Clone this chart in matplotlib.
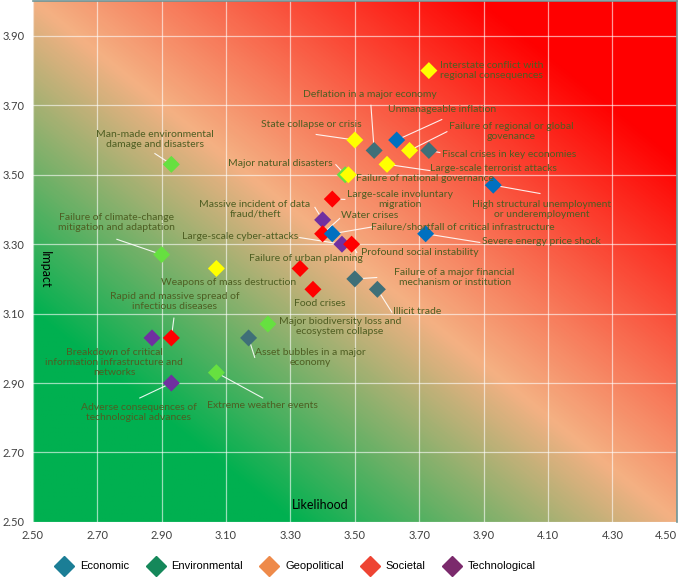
import numpy as np
import matplotlib
matplotlib.use("Agg")
import matplotlib.pyplot as plt
from matplotlib.colors import LinearSegmentedColormap
from matplotlib.lines import Line2D

# rischi globali: nome, probabilita' (x), impatto (y), gruppo colore
risks = [
    "Interstate conflict with\nregional consequences",
    "Deflation in a major economy",
    "Unmanageable inflation",
    "State collapse or crisis",
    "Failure of regional or global\ngovenance",
    "Fiscal crises in key economies",
    "Large-scale terrorist attacks",
    "Major natural disasters",
    "Failure of national governance",
    "Large-scale involuntary\nmigration",
    "High structural unemployment\nor underemployment",
    "Massive incident of data\nfraud/theft",
    "Water crises",
    "Failure/shortfall of critical infrastructure",
    "Large-scale cyber-attacks",
    "Severe energy price shock",
    "Profound social instability",
    "Failure of urban planning",
    "Weapons of mass destruction",
    "Food crises",
    "Failure of a major financial\nmechanism or institution",
    "Illicit trade",
    "Man-made environmental\ndamage and disasters",
    "Failure of climate-change\nmitigation and adaptation",
    "Rapid and massive spread of\ninfectious diseases",
    "Breakdown of critical\ninformation infrastructure and\nnetworks",
    "Adverse consequences of\ntechnological advances",
    "Extreme weather events",
    "Asset bubbles in a major\neconomy",
    "Major biodiversity loss and\necosystem collapse",
]
likelihood = [3.73, 3.56, 3.63, 3.50, 3.67, 3.73, 3.60, 3.47, 3.48, 3.43,
              3.93, 3.40, 3.40, 3.43, 3.46, 3.72, 3.49, 3.33, 3.07, 3.37,
              3.50, 3.57, 2.93, 2.90, 2.93, 2.87, 2.93, 3.07, 3.17, 3.23]
impact = [3.80, 3.57, 3.60, 3.60, 3.57, 3.57, 3.53, 3.50, 3.50, 3.43,
          3.47, 3.37, 3.33, 3.33, 3.30, 3.33, 3.30, 3.23, 3.23, 3.17,
          3.20, 3.17, 3.53, 3.27, 3.03, 3.03, 2.90, 2.93, 3.03, 3.07]
group = ["geo", "eco2", "eco", "geo", "geo", "eco2", "geo", "env", "geo", "soc",
         "eco", "tec", "soc", "eco", "tec", "eco", "soc", "soc", "geo", "soc",
         "eco2", "eco2", "env", "env", "soc", "tec", "tec", "env", "eco2", "env"]

legend_labels = ["Economic", "Environmental", "Geopolitical", "Societal", "Technological"]
legend_colors = ["#1B7E96", "#15885A", "#EE8A4A", "#EE4433", "#7B2A6C"]

marker_colors = {"geo": "#FFFF00", "eco": "#0070C0", "eco2": "#3F6F78",
                 "env": "#66E040", "soc": "#FF0000", "tec": "#7030A0"}

# posizione etichette (centro) e inizio della linea guida
label_pos = [(3.764, 3.80, "left"), (3.547, 3.73, "center"), (3.77, 3.687, "center"),
             (3.366, 3.645, "center"), (3.985, 3.624, "center"), (3.978, 3.558, "center"),
             (3.93, 3.517, "center"), (3.267, 3.532, "center"), (3.717, 3.488, "center"),
             (3.64, 3.43, "center"), (4.08, 3.40, "center"), (3.19, 3.40, "center"),
             (3.547, 3.382, "center"), (3.835, 3.35, "center"), (3.143, 3.321, "center"),
             (4.078, 3.307, "center"), (3.702, 3.275, "center"), (3.348, 3.258, "center"),
             (3.109, 3.189, "center"), (3.391, 3.128, "center"), (3.81, 3.203, "center"),
             (3.692, 3.105, "center"), (2.879, 3.602, "center"), (2.761, 3.362, "center"),
             (2.941, 3.134, "center"), (2.752, 2.958, "center"), (2.829, 2.814, "center"),
             (3.214, 2.834, "center"), (3.363, 2.973, "center"), (3.453, 3.062, "center")]
leader = [None, (3.55, 3.70), (3.77, 3.659), (3.38, 3.616), (3.786, 3.624),
          (3.764, 3.564), (3.733, 3.512), (3.441, 3.529), None, (3.469, 3.429),
          (4.075, 3.446), (3.376, 3.406), (3.453, 3.374), (3.562, 3.351), (3.329, 3.319),
          (3.888, 3.305), (3.506, 3.276), None, None, None,
          (3.568, 3.204), (3.615, 3.104), (2.879, 3.561), (2.761, 3.314), (2.938, 3.087),
          None, (2.832, 2.857), (3.214, 2.857), (3.189, 2.974), None]

fig = plt.figure(figsize=(6.85, 5.78), dpi=100)
ax = fig.add_axes([0.048, 0.097, 0.940, 0.901])
ax.set_xlim(2.5, 4.5)
ax.set_ylim(2.5, 4.0)

# sfondo sfumato in diagonale
cmap = LinearSegmentedColormap.from_list(
    "risk", [(0.0, "#00B050"), (0.2, "#00B050"), (0.5, "#F4B183"),
             (0.85, "#FF0000"), (1.0, "#FF0000")])
gx, gy = np.meshgrid(np.linspace(0, 1, 400), np.linspace(0, 1, 400))
grad = (gx + gy) / 2
ax.imshow(grad, cmap=cmap, extent=(2.5, 4.5, 2.5, 4.0), origin="lower",
          aspect="auto", zorder=0, vmin=0, vmax=1)

ax.set_xticks(np.arange(2.5, 4.51, 0.2))
ax.set_yticks(np.arange(2.5, 3.91, 0.2))
ax.xaxis.set_major_formatter(matplotlib.ticker.FormatStrFormatter("%.2f"))
ax.yaxis.set_major_formatter(matplotlib.ticker.FormatStrFormatter("%.2f"))
ax.grid(True, color="white", alpha=0.6, lw=0.9, zorder=1)
ax.tick_params(length=0, labelsize=8, labelcolor="#404040", pad=6)
for lab in ax.get_xticklabels() + ax.get_yticklabels():
    lab.set_family("Lato")
ax.get_xticklabels()[-1].set_ha("right")  # altrimenti 4.50 esce dal bordo
for s in ["left", "bottom"]:
    ax.spines[s].set_visible(False)
for s in ["top", "right"]:
    ax.spines[s].set_color("#6E9496")
    ax.spines[s].set_linewidth(1.2)

txt_color = "#4E5E22"
for i, name in enumerate(risks):
    tx, ty, ha = label_pos[i]
    if leader[i] is not None:
        ax.plot([leader[i][0], likelihood[i]], [leader[i][1], impact[i]],
                color="white", lw=0.8, alpha=0.9, zorder=2)
    ax.text(tx, ty, name, ha=ha, va="center", fontsize=7.5, color=txt_color,
            family="Lato", linespacing=1.15, zorder=4)

ax.scatter(likelihood, impact, marker="D", s=75,
           c=[marker_colors[g] for g in group], edgecolors="none", zorder=3)

ax.text(2.537, 3.225, "Impact", rotation=270, ha="center", va="center",
        fontsize=9, family="Lato", color="black")
ax.text(3.391, 2.549, "Likelihood", ha="center", va="center",
        fontsize=9, family="Lato", color="black")

handles = [Line2D([], [], marker="D", ls="none", color=c, markersize=10)
           for c in legend_colors]
fig.legend(handles, legend_labels, loc="center", bbox_to_anchor=(0.43, 0.02),
           ncol=5, frameon=False, prop={"family": "Liberation Sans", "size": 8},
           handletextpad=0.4, columnspacing=1.4)

fig.savefig("out.png", dpi=100)
